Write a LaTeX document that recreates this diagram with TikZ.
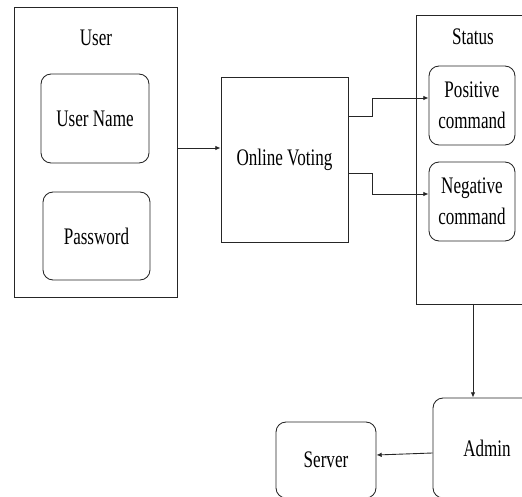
\documentclass[tikz,border=0pt]{standalone}
\usepackage{fontspec}
\setmainfont{Liberation Serif}[FakeStretch=0.72]
\usetikzlibrary{arrows.meta}
\begin{document}
\begin{tikzpicture}[x=0.02cm,y=-0.02cm,>={Latex[length=3pt,width=2.6pt]},
    box/.style={draw=black!85,line width=0.5pt,inner sep=0pt},
    rbox/.style={box,rounded corners=0.2cm,align=center},
    every node/.style={font=\fontsize{13.5}{17.5}\selectfont},
    line/.style={draw=black!85,line width=0.5pt}]
\useasboundingbox (0,0) rectangle (522,497);
\clip (0,0) rectangle (522,497);

% user side
\node[box,minimum width=3.26cm,minimum height=5.8cm] (user) at (95.5,152) {};
\node (userlbl) at (96,38) {User};
\node[rbox,minimum width=2.16cm,minimum height=1.78cm] (uname) at (95,118.5) {User Name};
\node[rbox,minimum width=2.14cm,minimum height=1.76cm] (pass) at (96.5,236) {Password};

% voting
\node[box,minimum width=2.54cm,minimum height=3.3cm] (voting) at (284.5,159.5) {Online Voting};

% status
\node[box,minimum width=2.48cm,minimum height=5.78cm] (status) at (478,159.5) {};
\node (statuslbl) at (473,37) {Status};
\node[rbox,minimum width=1.72cm,minimum height=1.58cm] (pos) at (472,105.5) {Positive\\command};
\node[rbox,minimum width=1.72cm,minimum height=1.58cm] (neg) at (472,201.5) {Negative\\command};

% admin and server
\node[rbox,minimum width=2.16cm,minimum height=2cm] (admin) at (487,448) {Admin};
\node[rbox,minimum width=2cm,minimum height=1.52cm] (server) at (326,460) {Server};

\draw[line,->] (user.east |- 0,148) -- (voting.west |- 0,148);
\draw[line,->] (voting.east |- 0,116) -- (372,116) -- (372,98) -- (pos.west |- 0,98);
\draw[line,->] (voting.east |- 0,173) -- (372,173) -- (372,194) -- (neg.west |- 0,194);
\coordinate (sa) at (473,304);
\draw[line,->] (sa) -- (sa |- admin.north);
\draw[line,->] (admin.west |- 0,453) -- (server.east |- 0,455);

\end{tikzpicture}
\end{document}
